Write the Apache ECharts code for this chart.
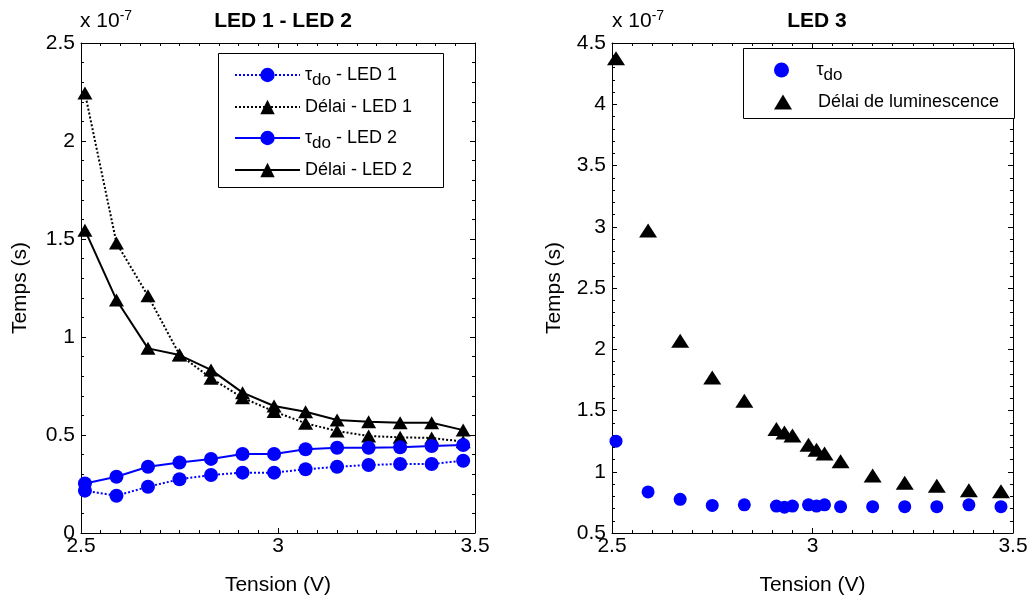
<!DOCTYPE html>
<html>
<head>
<meta charset="utf-8">
<script src="https://cdn.jsdelivr.net/npm/echarts@6/dist/echarts.min.js"></script>
<style>
html,body{margin:0;padding:0;background:#fff;}
#c{width:1030px;height:597px;}
</style>
</head>
<body>
<div id="c"></div>
<script>
// ---- data (y values in units of 1e-7 s) ----
const voltage12 = [2.51, 2.59, 2.67, 2.75, 2.83, 2.91, 2.99, 3.07, 3.15, 3.23, 3.31, 3.39, 3.47];
const tauLed1   = [0.216, 0.19, 0.236, 0.274, 0.296, 0.308, 0.308, 0.325, 0.338, 0.347, 0.352, 0.352, 0.369];
const delaiLed1 = [2.245, 1.48, 1.21, 0.91, 0.79, 0.69, 0.62, 0.56, 0.52, 0.495, 0.488, 0.485, 0.466];
const tauLed2   = [0.253, 0.287, 0.338, 0.36, 0.378, 0.403, 0.403, 0.427, 0.435, 0.435, 0.437, 0.444, 0.449];
const delaiLed2 = [1.545, 1.189, 0.942, 0.908, 0.832, 0.716, 0.648, 0.619, 0.577, 0.568, 0.563, 0.563, 0.525];

const voltage3 = [2.51, 2.59, 2.67, 2.75, 2.83, 2.91, 2.93, 2.95, 2.99, 3.01, 3.03, 3.07, 3.15, 3.23, 3.31, 3.39, 3.47];
const tau3     = [1.25, 0.835, 0.775, 0.725, 0.73, 0.72, 0.71, 0.72, 0.73, 0.72, 0.73, 0.715, 0.715, 0.715, 0.715, 0.73, 0.715];
const delai3   = [4.375, 2.97, 2.07, 1.77, 1.58, 1.35, 1.32, 1.295, 1.22, 1.18, 1.15, 1.085, 0.97, 0.91, 0.885, 0.85, 0.84];

const titles = ['LED 1 - LED 2', 'LED 3'];
const names12 = ['τdo - LED 1', 'Délai - LED 1', 'τdo - LED 2', 'Délai - LED 2'];
const names3 = ['τdo', 'Délai de luminescence'];
const xName = 'Tension (V)';
const yName = 'Temps (s)';

const zip = (xs, ys) => xs.map((x, i) => [x, ys[i]]);
const FONT = 'Liberation Sans, Arial, sans-serif';
const BLUE = '#0000ff';

function xAx(grid, pos, show) {
  return {
    type: 'value', gridIndex: grid, position: pos, min: 2.5, max: 3.5, interval: 0.5,
    axisLine: {show: true, onZero: false, lineStyle: {color: '#000', width: 1}},
    axisTick: {show: true, inside: true, length: 5, lineStyle: {color: '#000'}},
    minorTick: {show: true, splitNumber: 10, length: 3, lineStyle: {color: '#000'}},
    splitLine: {show: false},
    axisLabel: {show: show, color: '#000', fontSize: 21, fontFamily: FONT, margin: 3,
      formatter: v => String(v)},
    name: show ? xName : '', nameLocation: 'middle', nameGap: 42,
    nameTextStyle: {color: '#000', fontSize: 21, fontFamily: FONT}
  };
}
function yAx(grid, pos, show, min, max, gap) {
  return {
    type: 'value', gridIndex: grid, position: pos, min: min, max: max, interval: 0.5,
    axisLine: {show: true, onZero: false, lineStyle: {color: '#000', width: 1}},
    axisTick: {show: true, inside: true, length: 5, lineStyle: {color: '#000'}},
    minorTick: {show: true, splitNumber: 5, length: 3, lineStyle: {color: '#000'}},
    splitLine: {show: false},
    axisLabel: {show: show, color: '#000', fontSize: 21, fontFamily: FONT, margin: 6,
      formatter: v => String(v)},
    name: show ? yName : '', nameLocation: 'middle', nameGap: gap || 50, nameRotate: 90,
    nameTextStyle: {color: '#000', fontSize: 21, fontFamily: FONT}
  };
}

const legendRich = {
  t: {fontSize: 18, fontFamily: FONT, color: '#000', lineHeight: 28},
  s: {fontSize: 17, fontFamily: FONT, color: '#000', lineHeight: 14, verticalAlign: 'bottom'},
  n: {fontSize: 18, fontFamily: FONT, color: '#000', lineHeight: 28}
};
const legendFmt = name => name.startsWith('τdo')
  ? '{t|τ}{s|do}{n|' + name.slice(3) + '}'
  : '{n|' + name + '}';

// one legend component per row, so each row sits at its own height
const rowTops12 = [61, 93, 124, 156];
const rowTops3 = [56, 88];
const legends = [];
names12.forEach((nm, i) => legends.push({
  data: [nm], orient: 'vertical', left: 234, top: rowTops12[i], padding: 0,
  itemWidth: 65, itemHeight: 18, z: 20, formatter: legendFmt,
  textStyle: {rich: legendRich, fontSize: 18, fontFamily: FONT, color: '#000', height: 28, lineHeight: 28}
}));
names3.forEach((nm, i) => legends.push({
  data: [nm], orient: 'vertical', left: 774, top: rowTops3[i], padding: 0,
  itemWidth: 18, itemHeight: 15, z: 20, formatter: legendFmt,
  textStyle: {rich: legendRich, fontSize: 18, fontFamily: FONT, color: '#000', height: 28, lineHeight: 28,
              padding: [0, 0, 0, 21]}
}));

const supRich = {
  b: {fontSize: 21, fontFamily: FONT, fill: '#000', padding: [10, 0, 0, 0]},
  e: {fontSize: 14, fontFamily: FONT, fill: '#000'}
};

const option = {
  animation: false,
  backgroundColor: '#fff',
  title: [
    {text: titles[0], left: 278, top: 6, textAlign: 'center',
     textStyle: {fontSize: 21, fontWeight: 'bold', color: '#000', fontFamily: FONT}},
    {text: titles[1], left: 812, top: 6, textAlign: 'center',
     textStyle: {fontSize: 21, fontWeight: 'bold', color: '#000', fontFamily: FONT}}
  ],
  grid: [
    {left: 81, top: 43, width: 394, height: 490, outerBoundsMode: 'none', containLabel: false},
    {left: 612, top: 43, width: 401, height: 490, outerBoundsMode: 'none', containLabel: false}
  ],
  xAxis: [xAx(0, 'bottom', true), xAx(0, 'top', false), xAx(1, 'bottom', true), xAx(1, 'top', false)],
  yAxis: [yAx(0, 'left', true, 0, 2.5, 50), yAx(0, 'right', false, 0, 2.5),
          yAx(1, 'left', true, 0.5, 4.5, 47), yAx(1, 'right', false, 0.5, 4.5)],
  legend: legends,
  graphic: [
    {type: 'rect', left: 218, top: 53, shape: {width: 225, height: 134}, z: 10,
     style: {fill: '#fff', stroke: '#000', lineWidth: 1}, silent: true},
    {type: 'rect', left: 743, top: 48, shape: {width: 271, height: 70}, z: 10,
     style: {fill: '#fff', stroke: '#000', lineWidth: 1}, silent: true},
    {type: 'text', left: 80, top: 9, z: 10, style: {rich: supRich, text: '{b|x 10}{e|-7}'}},
    {type: 'text', left: 612, top: 9, z: 10, style: {rich: supRich, text: '{b|x 10}{e|-7}'}}
  ],
  series: [
    {name: names12[0], type: 'line', xAxisIndex: 0, yAxisIndex: 0, data: zip(voltage12, tauLed1),
     symbol: 'circle', symbolSize: 14, itemStyle: {color: BLUE},
     lineStyle: {color: BLUE, width: 2, type: [2, 2]}},
    {name: names12[1], type: 'line', xAxisIndex: 0, yAxisIndex: 0, data: zip(voltage12, delaiLed1),
     symbol: 'triangle', symbolSize: [15, 13], itemStyle: {color: '#000'},
     lineStyle: {color: '#000', width: 2, type: [2, 2]}},
    {name: names12[2], type: 'line', xAxisIndex: 0, yAxisIndex: 0, data: zip(voltage12, tauLed2),
     symbol: 'circle', symbolSize: 14, itemStyle: {color: BLUE},
     lineStyle: {color: BLUE, width: 2}},
    {name: names12[3], type: 'line', xAxisIndex: 0, yAxisIndex: 0, data: zip(voltage12, delaiLed2),
     symbol: 'triangle', symbolSize: [15, 13], itemStyle: {color: '#000'},
     lineStyle: {color: '#000', width: 2}},
    {name: names3[0], type: 'scatter', xAxisIndex: 2, yAxisIndex: 2, data: zip(voltage3, tau3),
     symbol: 'circle', symbolSize: 13, itemStyle: {color: BLUE, opacity: 1}},
    {name: names3[1], type: 'scatter', xAxisIndex: 2, yAxisIndex: 2, data: zip(voltage3, delai3),
     symbol: 'triangle', symbolSize: [18, 14], itemStyle: {color: '#000', opacity: 1}}
  ]
};
const chart = echarts.init(document.getElementById('c'), null, {renderer: 'canvas'});
chart.setOption(option);
</script>
</body>
</html>
